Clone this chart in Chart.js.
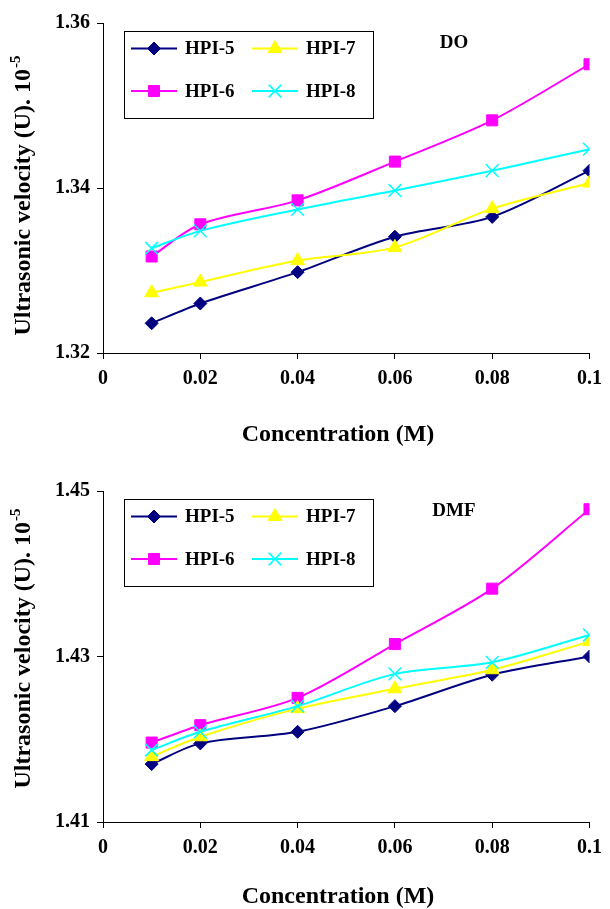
<!DOCTYPE html>
<html>
<head>
<meta charset="utf-8">
<script src="https://cdn.jsdelivr.net/npm/chart.js@4.4.1/dist/chart.umd.min.js"></script>
<style>
  body { margin: 0; background: #fff; }
  canvas { display: block; }
</style>
</head>
<body>
<canvas id="chartDO" width="610" height="455"></canvas>
<canvas id="chartDMF" width="610" height="454"></canvas>
<script>
// concentrations (M) where the points were measured
const conc = [0.01, 0.02, 0.04, 0.06, 0.08, 0.1];
const xTickLabels = ['0', '0.02', '0.04', '0.06', '0.08', '0.1'];
const seriesNames = ['HPI-5', 'HPI-6', 'HPI-7', 'HPI-8'];

// DO
const doHPI5 = [1.3236, 1.3260, 1.3298, 1.3341, 1.3365, 1.3421];
const doHPI6 = [1.3317, 1.3356, 1.3385, 1.3432, 1.3482, 1.3550];
const doHPI7 = [1.3273, 1.3286, 1.3312, 1.3328, 1.3375, 1.3406];
const doHPI8 = [1.3327, 1.3348, 1.3374, 1.3397, 1.3421, 1.3447];
const doYTicks = ['1.32', '1.34', '1.36'];

// DMF
const dmfHPI5 = [1.4170, 1.4195, 1.4209, 1.4240, 1.4278, 1.4300];
const dmfHPI6 = [1.4196, 1.4217, 1.4250, 1.4315, 1.4382, 1.4478];
const dmfHPI7 = [1.4179, 1.4203, 1.4237, 1.4261, 1.4284, 1.4318];
const dmfHPI8 = [1.4187, 1.4209, 1.4240, 1.4279, 1.4293, 1.4326];
const dmfYTicks = ['1.41', '1.43', '1.45'];

const FONT = '"Liberation Serif", "Times New Roman", serif';

const looks = [
	{ color: '#000080', pointStyle: 'rectRot', radius: 6.5 },
	{ color: '#FF00FF', pointStyle: 'rect', radius: 7.8 },
	{ color: '#FFFF00', pointStyle: 'triangle', radius: 8 },
	{ color: '#00FFFF', pointStyle: 'crossRot', radius: 9 }
];

function makeDatasets(seriesList) {
	return seriesList.map((values, i) => ({
		label: seriesNames[i],
		data: conc.map((x, j) => ({ x: x, y: values[j] })),
		borderColor: looks[i].color,
		backgroundColor: looks[i].color,
		pointBackgroundColor: looks[i].color,
		pointBorderColor: looks[i].color,
		pointBorderWidth: i == 3 ? 1.5 : 1,
		pointStyle: looks[i].pointStyle,
		pointRadius: looks[i].radius,
		borderWidth: 2,
		tension: 0.3,
		order: 3 - i
	}));
}

// legend box, DO/DMF label and axis titles
const overlay = {
	id: 'overlay',
	afterDraw(chart, args, opts) {
		const ctx = chart.ctx;
		const area = chart.chartArea;
		ctx.save();

		// legend
		const bx = 124, by = area.top + 8;
		ctx.strokeStyle = '#000';
		ctx.lineWidth = 1;
		ctx.strokeRect(bx + 0.5, by + 0.5, 249, 87);
		chart.data.datasets.forEach((ds, i) => {
			const col = Math.floor(i / 2), row = i % 2;
			const lx = 131 + col * 121, ly = by + 17.5 + row * 42.5;
			ctx.strokeStyle = ds.borderColor;
			ctx.lineWidth = 2;
			ctx.beginPath();
			ctx.moveTo(lx, ly);
			ctx.lineTo(lx + 46, ly);
			ctx.stroke();
			ctx.fillStyle = ds.pointBackgroundColor;
			ctx.strokeStyle = ds.pointBorderColor;
			ctx.lineWidth = ds.pointBorderWidth;
			Chart.helpers.drawPoint(ctx, {
				pointStyle: ds.pointStyle,
				radius: ds.pointRadius,
				rotation: 0,
				borderWidth: ds.pointBorderWidth
			}, lx + 23, ly);
			ctx.fillStyle = '#000';
			ctx.font = 'bold 19px ' + FONT;
			ctx.textAlign = 'left';
			ctx.textBaseline = 'middle';
			ctx.fillText(ds.label, lx + 54, ly + 1);
		});

		// solvent label
		ctx.fillStyle = '#000';
		ctx.font = 'bold 19px ' + FONT;
		ctx.textAlign = 'center';
		ctx.textBaseline = 'middle';
		ctx.fillText(opts.label, 454, area.top + 20);

		// x title
		ctx.font = 'bold 24px ' + FONT;
		ctx.fillText('Concentration (M)', 338, area.bottom + opts.xTitleGap);

		// y title with superscript
		ctx.translate(22, opts.yTitleY);
		ctx.rotate(-Math.PI / 2);
		const main = 'Ultrasonic velocity (U). 10';
		const sup = '-5';
		ctx.font = 'bold 24px ' + FONT;
		const w1 = ctx.measureText(main).width;
		ctx.font = 'bold 15px ' + FONT;
		const w2 = ctx.measureText(sup).width;
		const start = -(w1 + w2) / 2;
		ctx.textAlign = 'left';
		ctx.textBaseline = 'alphabetic';
		ctx.font = 'bold 24px ' + FONT;
		ctx.fillText(main, start, 8);
		ctx.font = 'bold 15px ' + FONT;
		ctx.fillText(sup, start + w1 + 1, -2);

		ctx.restore();
	}
};

function makeChart(id, seriesList, yMin, yMax, yTicks, pad, xAxisHeight, overlayOpts) {
	return new Chart(document.getElementById(id), {
		type: 'line',
		data: { datasets: makeDatasets(seriesList) },
		options: {
			responsive: false,
			animation: false,
			layout: { padding: { left: 0, right: 18, top: pad, bottom: 0 } },
			scales: {
				x: {
					type: 'linear',
					min: 0,
					max: 0.1,
					afterFit: scale => { scale.height = xAxisHeight; },
					border: { display: true, color: '#000', width: 1 },
					grid: { drawOnChartArea: false, drawTicks: true, tickLength: 6, color: '#000' },
					ticks: {
						stepSize: 0.02,
						autoSkip: false,
						maxRotation: 0,
						padding: 8,
						color: '#000',
						font: { family: FONT, size: 20, weight: 'bold' },
						callback: (v, i) => xTickLabels[i]
					}
				},
				y: {
					min: yMin,
					max: yMax,
					afterFit: scale => { scale.width = 103; },
					border: { display: true, color: '#000', width: 1 },
					grid: { drawOnChartArea: false, drawTicks: true, tickLength: 6, color: '#000' },
					ticks: {
						stepSize: 0.02,
						padding: 7,
						color: '#000',
						font: { family: FONT, size: 20, weight: 'bold' },
						callback: (v, i) => yTicks[i]
					}
				}
			},
			plugins: {
				legend: { display: false },
				tooltip: { enabled: false },
				overlay: overlayOpts
			}
		},
		plugins: [overlay]
	});
}

makeChart('chartDO', [doHPI5, doHPI6, doHPI7, doHPI8], 1.32, 1.36, doYTicks, 23, 102,
	{ label: 'DO', xTitleGap: 82, yTitleY: 196 });
makeChart('chartDMF', [dmfHPI5, dmfHPI6, dmfHPI7, dmfHPI8], 1.41, 1.45, dmfYTicks, 36, 87,
	{ label: 'DMF', xTitleGap: 75, yTitleY: 194 });
</script>
</body>
</html>
